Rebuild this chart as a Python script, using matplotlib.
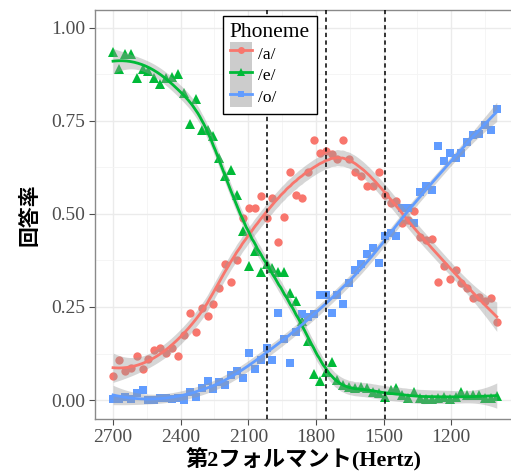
import numpy as np
import matplotlib
matplotlib.use("Agg")
import matplotlib.pyplot as plt
from matplotlib.lines import Line2D
from matplotlib.patches import Patch
from matplotlib.legend_handler import HandlerTuple

# ---------------- data ----------------
freq = [2700, 2674, 2648, 2621, 2595, 2569, 2543, 2517, 2490, 2464, 2438, 2412,
        2386, 2360, 2333, 2307, 2281, 2255, 2229, 2202, 2176, 2150, 2124, 2098,
        2071, 2045, 2019, 1993, 1967, 1940, 1914, 1888, 1862, 1836, 1810, 1783,
        1757, 1731, 1705, 1679, 1652, 1626, 1600, 1574, 1548, 1521, 1495, 1469,
        1443, 1417, 1390, 1364, 1338, 1312, 1286, 1260, 1233, 1207, 1181, 1155,
        1129, 1102, 1076, 1050, 1024, 998]

resp_a = [0.065, 0.108, 0.079, 0.085, 0.117, 0.083, 0.110, 0.135, 0.141, 0.126,
          0.141, 0.117, 0.175, 0.233, 0.184, 0.248, 0.226, 0.257, 0.300, 0.365,
          0.317, 0.377, 0.489, 0.516, 0.516, 0.549, 0.489, 0.543, 0.424, 0.491,
          0.614, 0.552, 0.543, 0.614, 0.700, 0.665, 0.668, 0.662, 0.648, 0.700,
          0.648, 0.614, 0.601, 0.576, 0.576, 0.614, 0.552, 0.529, 0.534, 0.477,
          0.484, 0.507, 0.439, 0.430, 0.433, 0.316, 0.359, 0.326, 0.350, 0.314,
          0.300, 0.275, 0.278, 0.265, 0.274, 0.209]

resp_e = [0.935, 0.890, 0.931, 0.931, 0.865, 0.890, 0.883, 0.865, 0.850, 0.865,
          0.868, 0.877, 0.825, 0.743, 0.810, 0.726, 0.726, 0.709, 0.650, 0.603,
          0.617, 0.552, 0.453, 0.359, 0.401, 0.343, 0.365, 0.354, 0.343, 0.343,
          0.287, 0.266, 0.211, 0.159, 0.069, 0.052, 0.074, 0.103, 0.054, 0.040,
          0.036, 0.031, 0.036, 0.031, 0.022, 0.018, 0.009, 0.027, 0.031, 0.013,
          0.006, 0.021, 0.006, 0.004, 0.004, 0.006, 0.009, 0.004, 0.009, 0.022,
          0.013, 0.013, 0.013, 0.006, 0.006, 0.011]

resp_o = [0.003, 0.003, 0.009, 0.004, 0.018, 0.027, 0.000, 0.000, 0.006, 0.006,
          0.003, 0.006, 0.000, 0.022, 0.009, 0.031, 0.051, 0.030, 0.049, 0.040,
          0.067, 0.078, 0.058, 0.126, 0.083, 0.108, 0.141, 0.108, 0.233, 0.164,
          0.099, 0.184, 0.230, 0.224, 0.230, 0.283, 0.283, 0.233, 0.283, 0.257,
          0.314, 0.350, 0.365, 0.392, 0.408, 0.368, 0.442, 0.448, 0.442, 0.516,
          0.516, 0.477, 0.558, 0.574, 0.565, 0.683, 0.641, 0.665, 0.650, 0.665,
          0.692, 0.713, 0.716, 0.740, 0.725, 0.782]

phonemes = ["/a/", "/e/", "/o/"]
boundaries = [2016, 1754, 1493]
x_ticks = [2700, 2400, 2100, 1800, 1500, 1200]
y_ticks = [0.00, 0.25, 0.50, 0.75, 1.00]

colors = ["#F8766D", "#00BA38", "#619CFF"]
markers = ["o", "^", "s"]
msizes = [6.0, 7.0, 5.8]


def loess(x, y, xs, span=0.75):
    x = np.asarray(x, float)
    y = np.asarray(y, float)
    n = len(x)
    q = int(np.floor(n * span))
    def hat_row(x0):
        d = np.abs(x - x0)
        h = np.sort(d)[q - 1]
        w = np.clip(1 - (d / h) ** 3, 0, None) ** 3
        X = np.column_stack([np.ones(n), x - x0, (x - x0) ** 2])
        W = np.diag(w)
        A = X.T @ W @ X
        return (np.linalg.solve(A, X.T @ W))[0]
    L = np.array([hat_row(x0) for x0 in x])
    fitted = L @ y
    res = y - fitted
    dof = n - np.trace(L)
    sigma = np.sqrt(np.sum(res ** 2) / dof)
    rows = np.array([hat_row(x0) for x0 in xs])
    ys = rows @ y
    se = sigma * np.sqrt(np.sum(rows ** 2, axis=1))
    return ys, se


plt.rcParams["font.family"] = ["Liberation Serif", "Noto Sans CJK JP"]

fig = plt.figure(figsize=(5.11, 4.76), dpi=100)
W, H = 511, 476
left_px, right_px, top_px, bot_px = 95, 513, 10, 419
ax = fig.add_axes([left_px / W, 1 - bot_px / H, (right_px - left_px) / W,
                   (bot_px - top_px) / H])

fx = np.array(freq, float)
series = [resp_a, resp_e, resp_o]
spans = [0.5, 0.4, 0.6]
xs = np.linspace(fx.min(), fx.max(), 200)

for vals, c, m, ms in zip(series, colors, markers, msizes):
    ax.plot(fx, vals, linestyle="none", marker=m, color=c, markersize=ms,
            markeredgewidth=0, zorder=3)

for vals, c, sp in zip(series, colors, spans):
    ys, se = loess(fx, vals, xs, span=sp)
    ax.fill_between(xs, ys - 1.96 * se, ys + 1.96 * se, color="#999999",
                    alpha=0.4, linewidth=0, zorder=4)
    ax.plot(xs, ys, color=c, linewidth=2.0, zorder=5)

for b in boundaries:
    ax.axvline(b, color="black", linestyle=(0, (2.8, 2.2)), linewidth=1.1,
               zorder=6)

ax.set_xlim(2780, 926)
ax.set_ylim(-0.051, 1.048)
ax.set_xticks(x_ticks)
ax.set_xticklabels([str(t) for t in x_ticks])
ax.set_yticks(y_ticks)
ax.set_yticklabels([f"{t:.2f}" for t in y_ticks])
ax.set_xticks([2550, 2250, 1950, 1650, 1350, 1050], minor=True)
ax.set_yticks([0.125, 0.375, 0.625, 0.875], minor=True)
ax.grid(which="major", color="#EBEBEB", linewidth=1.0, zorder=0)
ax.grid(which="minor", color="#F4F4F4", linewidth=0.6, zorder=0)
ax.set_axisbelow(True)
ax.tick_params(which="major", direction="out", length=4, width=0.8,
               color="#4D4D4D", labelcolor="#4D4D4D", labelsize=14, pad=3)
ax.tick_params(which="minor", length=0)
for s in ax.spines.values():
    s.set_color("#8A8A8A")
    s.set_linewidth(1.0)

ax.set_xlabel("第2フォルマント(Hertz)", fontsize=16, fontweight="bold",
              labelpad=2)
ax.set_ylabel("回答率", fontsize=15, fontweight="bold", labelpad=8)

handles = []
for c, m, ms in zip(colors, markers, msizes):
    bg = Patch(facecolor="#CCCCCC", edgecolor="none")
    ln = Line2D([], [], color=c, marker=m, markersize=ms - 1, markeredgewidth=0,
                linewidth=2.0)
    handles.append((bg, ln))
leg = ax.legend(handles, phonemes, title="Phoneme",
                handler_map={tuple: HandlerTuple(ndivide=1, pad=0)},
                loc="upper left", bbox_to_anchor=(0.306, 0.985),
                borderaxespad=0.0,
                fontsize=12.5, title_fontsize=15.5, frameon=True, fancybox=False,
                edgecolor="black", framealpha=1, handlelength=1.3,
                handleheight=1.55, labelspacing=0.0, handletextpad=0.35,
                borderpad=0.4)
leg.get_frame().set_linewidth(1.0)
leg.set_zorder(10)
leg._legend_box.align = "left"

fig.savefig("out.png", dpi=100)
